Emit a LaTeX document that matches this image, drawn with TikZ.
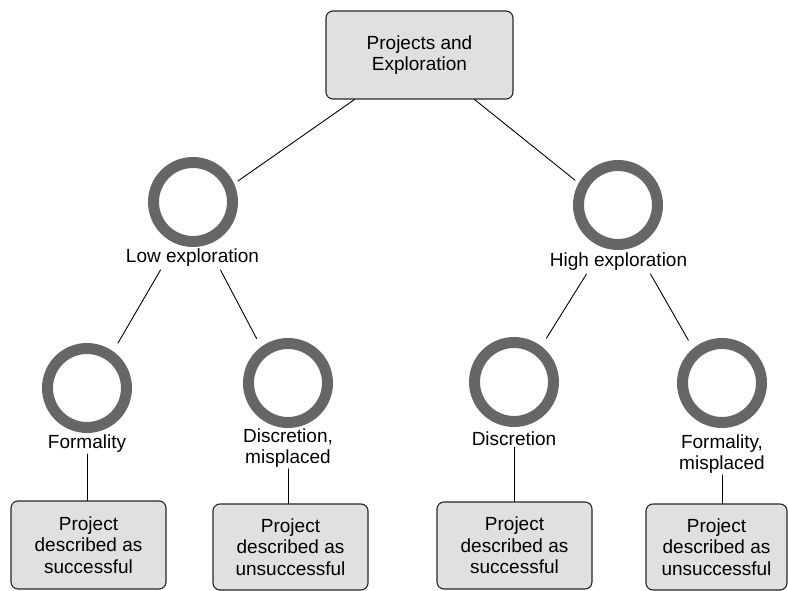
\documentclass[tikz,border=0pt]{standalone}
\usepackage{fontspec}
\setmainfont{Liberation Sans}
\usepackage{tikz}

\begin{document}
\begin{tikzpicture}[x=1pt,y=1pt,line cap=round,line join=round,
  box/.style={draw=black!85,fill=black!12,rounded corners=7pt,line width=1.1pt,
    align=center,inner sep=0pt,font=\fontsize{19}{21.7}\selectfont},
  ring/.style={circle,draw=black!60,line width=11pt,minimum size=79pt,
    inner sep=0pt,outer sep=10pt},
  lab/.style={align=center,inner sep=1pt,font=\fontsize{19}{21.7}\selectfont},
  link/.style={line width=0.9pt}]
\useasboundingbox (0,0) rectangle (788,590);
\node[box,minimum width=187pt,minimum height=88pt] (root) at (419.5,535) {Projects and\\Exploration};
\node[ring] (lowc) at (193,388) {};
\node[lab] (lowl) at (192.5,332) {Low exploration};
\node[ring] (highc) at (618,385) {};
\node[lab] (highl) at (618.5,328) {High exploration};
\node[ring] (c1) at (87,202) {};
\node[lab] (l1) at (87,146) {Formality};
\node[ring] (c2) at (288,207) {};
\node[lab] (l2) at (288,142) {Discretion,\\misplaced};
\node[ring] (c3) at (514,208) {};
\node[lab] (l3) at (514,151) {Discretion};
\node[ring] (c4) at (722,207) {};
\node[lab] (l4) at (722,136) {Formality,\\misplaced};
\node[box,minimum width=155pt,minimum height=88pt] (b1) at (88.5,45) {Project\\described as\\successful};
\node[box,minimum width=155pt,minimum height=86pt] (b2) at (290.5,43) {Project\\described as\\unsuccessful};
\node[box,minimum width=155pt,minimum height=87pt] (b3) at (514.5,44.5) {Project\\described as\\successful};
\node[box,minimum width=141pt,minimum height=86pt] (b4) at (716.5,43) {Project\\described as\\unsuccessful};
\draw[link] ([xshift=29pt]root.south west) -- (lowc.25);
\draw[link] ([xshift=-39pt]root.south east) -- (highc.150);
\draw[link,shorten >=5pt] ([xshift=-32pt,yshift=-12pt]lowl.center) -- (c1.55);
\draw[link,shorten >=5pt] ([xshift=28pt,yshift=-12pt]lowl.center) -- (c2.126);
\draw[link,shorten >=5pt] ([xshift=-32pt,yshift=-12pt]highl.center) -- (c3.53);
\draw[link,shorten >=5pt] ([xshift=32pt,yshift=-12pt]highl.center) -- (c4.129);
\draw[link] (l1.south) -- (l1.south |- b1.north);
\draw[link] (l2.south) -- (l2.south |- b2.north);
\draw[link] (l3.south) -- (l3.south |- b3.north);
\draw[link] (l4.south) -- (l4.south |- b4.north);
\end{tikzpicture}
\end{document}
